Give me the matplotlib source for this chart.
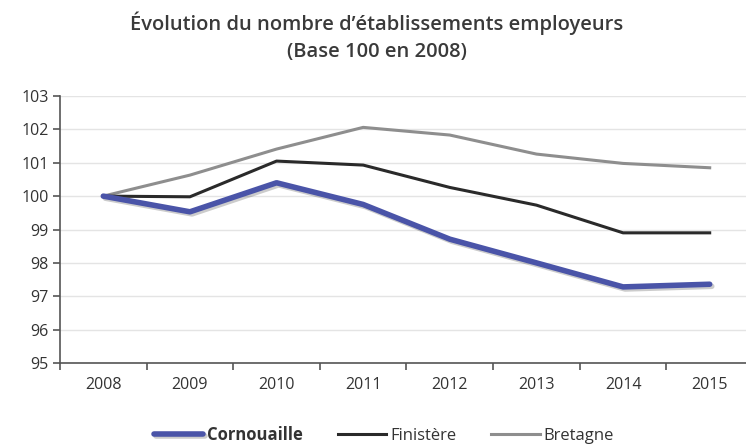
import matplotlib.pyplot as plt
import matplotlib.patheffects as pe
import numpy as np

# values (base 100 in 2008)
years = ['2008', '2009', '2010', '2011', '2012', '2013', '2014', '2015']
cornouaille = [100.0, 99.53, 100.40, 99.75, 98.71, 98.0, 97.28, 97.36]
finistere = [100.0, 99.98, 101.05, 100.93, 100.26, 99.73, 98.90, 98.90]
bretagne = [100.0, 100.63, 101.41, 102.06, 101.83, 101.26, 100.98, 100.85]

plt.rcParams['font.family'] = ['Open Sans', 'DejaVu Sans']

fig = plt.figure(figsize=(7.46, 4.45), dpi=100)
ax = fig.add_axes([60 / 746, 82 / 445, 693 / 746, 267 / 445])

x = np.arange(len(years))
shadow = [pe.SimpleLineShadow(offset=(1.5, -1.5), alpha=0.2), pe.Normal()]
ax.plot(x, bretagne, color='#8e8e8e', lw=2.2, label='Bretagne', zorder=3)
ax.plot(x, finistere, color='#2a2a2a', lw=2.2, label='Finistère', zorder=4)
ax.plot(x, cornouaille, color='#4a54a8', lw=4, label='Cornouaille', zorder=5,
        path_effects=shadow, solid_capstyle='round')

ax.set_ylim(95, 103)
ax.set_xlim(-0.5, len(years) - 0.5)
ax.set_yticks(range(95, 104))
ax.set_xticks(x)
ax.set_xticklabels(years)
ax.set_xticks(np.arange(-0.5, len(years), 1), minor=True)
ax.tick_params(axis='x', which='major', length=0, pad=10)
ax.tick_params(axis='x', which='minor', length=5, width=1.2, color='#555555', direction='out')
ax.tick_params(axis='y', length=5, width=1.2, color='#555555', direction='out', pad=3)
ax.tick_params(labelsize=11.5, labelcolor='#333333')
ax.grid(axis='y', color='#e4e4e4', lw=1)
ax.set_axisbelow(True)
for s in ['top', 'right']:
    ax.spines[s].set_visible(False)
for s in ['left', 'bottom']:
    ax.spines[s].set_color('#555555')
    ax.spines[s].set_linewidth(1.2)

fig.text(0.505, 0.917, "Évolution du nombre d’établissements employeurs\n(Base 100 en 2008)",
         ha='center', va='center', fontsize=14.5, fontweight='semibold', color='#3a3a3a',
         linespacing=1.45)

h, l = ax.get_legend_handles_labels()
order = [2, 1, 0]
leg = fig.legend([h[i] for i in order], [l[i] for i in order], loc='center',
                 bbox_to_anchor=(0.515, 0.022), ncol=3, frameon=False, fontsize=12,
                 handlelength=2.9, handletextpad=0.25, columnspacing=2.1)
for t in leg.get_texts():
    t.set_color('#333333')
leg.get_texts()[0].set_fontweight('bold')

fig.savefig('out.png', dpi=100)
